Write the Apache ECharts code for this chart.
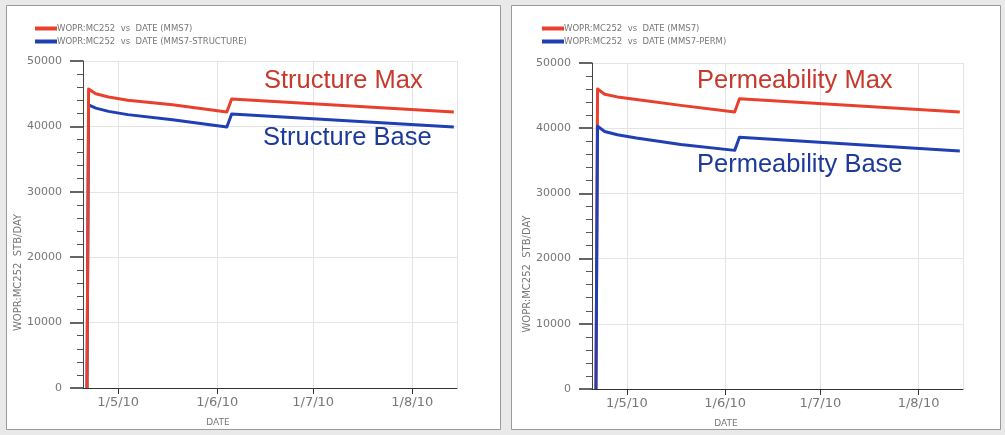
<!DOCTYPE html>
<html><head><meta charset="utf-8">
<script src="https://cdn.jsdelivr.net/npm/echarts@6/dist/echarts.min.js"></script>
<style>html,body{margin:0;padding:0;background:#e9e9e9}#c{width:1005px;height:435px}</style>
</head><body><div id="c"></div>
<script>
// ---- data ----
const dates = ['2010-04-21 06:00','2010-04-21 18:00','2010-04-24','2010-04-28','2010-05-04','2010-05-18','2010-06-04','2010-06-05 12:00','2010-08-14'];
const structMax  = [0,45700,45000,44500,44000,43300,42200,44200,42200];
const structBase = [0,43300,42800,42300,41800,41000,39900,41900,39900];
const permMax    = [0,46000,45200,44800,44400,43500,42500,44500,42500];
const permBase   = [0,40300,39500,39000,38500,37500,36600,38600,36500];
const xTickDates = ['2010-05-01','2010-06-01','2010-07-01','2010-08-01'];
const xRange = ['2010-04-20','2010-08-15'];
const yRange = [0, 50000];
const yStep = 10000;
const nameMax    = 'WOPR:MC252  vs  DATE (MMS7)';
const nameStruct = 'WOPR:MC252  vs  DATE (MMS7-STRUCTURE)';
const namePerm   = 'WOPR:MC252  vs  DATE (MMS7-PERM)';
const yName = 'WOPR:MC252  STB/DAY';
const xName = 'DATE';
const notes = ['Structure Max','Structure Base','Permeability Max','Permeability Base'];

// ---- helpers ----
function ts(s){const p=s.split(' ');return new Date(p[0]+'T'+(p[1]||'00:00')).getTime();}
function pairs(vals){return dates.map((d,i)=>[ts(d),vals[i]]);}
const tickVals = xTickDates.map(ts);
function fmt(v){
  let best=null;
  tickVals.forEach(t=>{if(Math.abs(t-v)<2*86400000)best=t;});
  if(best===null)return '';
  const d=new Date(best);return d.getDate()+'/'+(d.getMonth()+1)+'/'+String(d.getFullYear()).slice(2);
}
const RED='#e8402c', BLUE='#1f3fb2', TXTRED='#c7392d', TXTBLUE='#1d3a98';

function xAxis(gi, padR){
  return {type:'time', gridIndex:gi, min:ts(xRange[0]), max:ts(xRange[1]),
    minInterval:28*86400000, maxInterval:31*86400000,
    name:xName, nameLocation:'middle', nameGap:30,
    nameTextStyle:{fontSize:9,color:'#777',fontFamily:'DejaVu Sans',padding:[0,padR,0,0]},
    axisLine:{show:true,lineStyle:{color:'#333',width:1}},
    axisTick:{show:true,length:6,lineStyle:{color:'#333'}},
    axisLabel:{formatter:fmt,color:'#777',fontSize:13,fontFamily:'DejaVu Sans',margin:8,hideOverlap:false},
    splitLine:{show:true,lineStyle:{color:'#e4e4e4',width:1}}};
}
function yAxis(gi, padR){
  return {type:'value', gridIndex:gi, min:yRange[0], max:yRange[1], interval:yStep,
    name:yName, nameLocation:'middle', nameGap:56,
    nameTextStyle:{fontSize:10,color:'#777',fontFamily:'DejaVu Sans',padding:[0,padR,0,0]},
    axisLine:{show:true,lineStyle:{color:'#444',width:1}},
    axisTick:{show:true,length:13,lineStyle:{color:'#333',width:1.5}},
    minorTick:{show:true,splitNumber:5,length:6,lineStyle:{color:'#555'}},
    axisLabel:{color:'#777',fontSize:11,fontFamily:'DejaVu Sans',margin:21,formatter:v=>String(v)},
    splitLine:{show:true,lineStyle:{color:'#e4e4e4',width:1}}};
}
function line(name,vals,color,xi,z){
  return {type:'line',name:name,data:pairs(vals),xAxisIndex:xi,yAxisIndex:xi,smooth:false,
    showSymbol:false,symbol:'none',z:z,lineStyle:{width:3,color:color,join:'round'},itemStyle:{color:color}};
}
function note(text,x,y,color){
  return {type:'text',left:x,top:y,z:50,style:{text:text,fill:color,font:'25.5px "Liberation Sans", Arial, sans-serif'}};
}

const chart = echarts.init(document.getElementById('c'), null, {renderer:'canvas'});
chart.setOption({
  animation:false,
  backgroundColor:'#e9e9e9',
  grid:[{left:83,top:61,width:374,height:327},{left:592,top:63,width:371,height:326}],
  xAxis:[xAxis(0,104),xAxis(1,103)],
  yAxis:[yAxis(0,96),yAxis(1,96)],
  legend:[
    {left:30,top:19,orient:'vertical',itemWidth:22,itemHeight:4,itemGap:4,icon:'rect',data:[nameMax,nameStruct],
     textStyle:{fontSize:8.5,color:'#777',fontFamily:'DejaVu Sans',padding:[0,0,0,-5]}},
    {left:537,top:19,orient:'vertical',itemWidth:22,itemHeight:4,itemGap:4,icon:'rect',data:[nameMax,namePerm],
     textStyle:{fontSize:8.5,color:'#777',fontFamily:'DejaVu Sans',padding:[0,0,0,-5]}}
  ],
  series:[
    line(nameStruct,structBase,BLUE,0,3),
    line(nameMax,structMax,RED,0,4),
    line(nameMax,permMax,RED,1,3),
    line(namePerm,permBase,BLUE,1,4)
  ],
  graphic:{elements:[
    {type:'rect',shape:{x:6.5,y:5.5,width:494,height:424},style:{fill:'#fff',stroke:'#9a9a9a',lineWidth:1},z:-10,silent:true},
    {type:'rect',shape:{x:511.5,y:5.5,width:489,height:424},style:{fill:'#fff',stroke:'#9a9a9a',lineWidth:1},z:-10,silent:true},
    note(notes[0],264,68,TXTRED),
    note(notes[1],263,125,TXTBLUE),
    note(notes[2],697,68,TXTRED),
    note(notes[3],697,152,TXTBLUE)
  ]}
});
</script></body></html>
